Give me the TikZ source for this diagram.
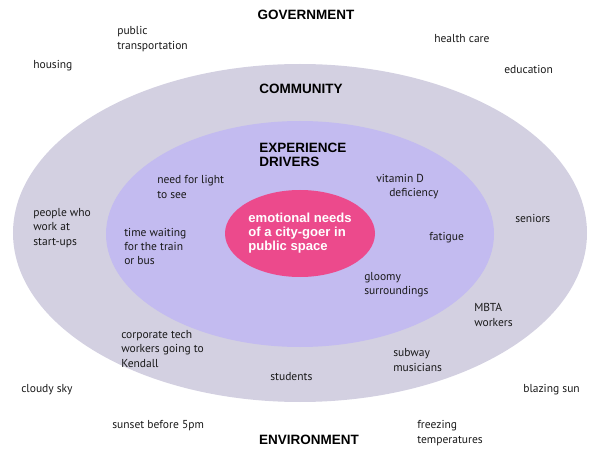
\documentclass[tikz,border=0pt]{standalone}
\usepackage{fontspec}
\setmainfont{PT Sans}
\newfontfamily\headfont{Liberation Sans}
\usetikzlibrary{positioning, shapes.geometric}

\definecolor{ringgray}{RGB}{211,208,225}
\definecolor{ringblue}{RGB}{195,187,240}
\definecolor{corepink}{RGB}{236,74,140}

\begin{document}
\begin{tikzpicture}[
    ring/.style={ellipse, inner sep=0pt},
    heading/.style={font=\headfont\bfseries\fontsize{9.6}{10.2}\selectfont, inner sep=0pt},
    item/.style={anchor=west, align=left, inner sep=0pt,
        font=\fontsize{8.2}{10.2}\selectfont, text=black!90}
]
\useasboundingbox (0,0) rectangle (15,11.45);

% --- Anillos ---
\node[ring, fill=ringgray, minimum width=14.35cm, minimum height=8.45cm] (community) at (7.5,5.625) {};
\node[ring, fill=ringblue, minimum width=9.7cm, minimum height=5.65cm] (drivers) at (7.5,5.6) {};
\node[ring, fill=corepink, minimum width=3.75cm, minimum height=2.175cm, align=left,
      text=white, font=\headfont\bfseries\fontsize{9.3}{10}\selectfont] (core) at (7.5,5.6125)
    {emotional needs\\of a city-goer in\\public space};

% --- Títulos ---
\node[heading] (government) at (7.65,11.075) {GOVERNMENT};
\node[heading] (communityTitle) at (7.525,9.225) {COMMUNITY};
\node[heading, anchor=west, align=left] (driversTitle) at (6.475,7.575) {EXPERIENCE\\DRIVERS};
\node[heading] (environment) at (7.725,0.45) {ENVIRONMENT};

% --- Gobierno ---
\node[item] (transport) at (2.925,10.475) {public\\transportation};
\node[item] (housing) at (0.825,9.8) {housing};
\node[item] (health) at (10.85,10.475) {health care};
\node[item] (education) at (12.6,9.725) {education};

% --- Comunidad ---
\node[item] (startups) at (0.825,5.75) {people who\\work at\\start-ups};
\node[item] (seniors) at (12.875,6.0) {seniors};
\node[item] (mbta) at (11.85,3.575) {MBTA\\workers};
\node[item] (kendall) at (3.025,2.725) {corporate tech\\workers going to\\Kendall};
\node[item] (musicians) at (9.825,2.45) {subway\\musicians};
\node[item] (students) at (6.75,2.025) {students};

% --- Factores de experiencia ---
\node[item] (light) at (3.925,6.775) {need for light\\to see};
\node[item] (vitamin) at (9.4,6.7875) {vitamin D\\\hspace*{9.25pt}deficiency};
\node[item] (waiting) at (3.1,5.29) {time waiting\\for the train\\or bus};
\node[item] (fatigue) at (10.725,5.5) {fatigue};
\node[item] (gloomy) at (9.1,4.3375) {gloomy\\surroundings};

% --- Entorno ---
\node[item] (cloudy) at (0.525,1.7) {cloudy sky};
\node[item] (blazing) at (13.075,1.7) {blazing sun};
\node[item] (sunset) at (2.8,0.8) {sunset before 5pm};
\node[item] (freezing) at (10.425,0.625) {freezing\\temperatures};

\end{tikzpicture}
\end{document}
